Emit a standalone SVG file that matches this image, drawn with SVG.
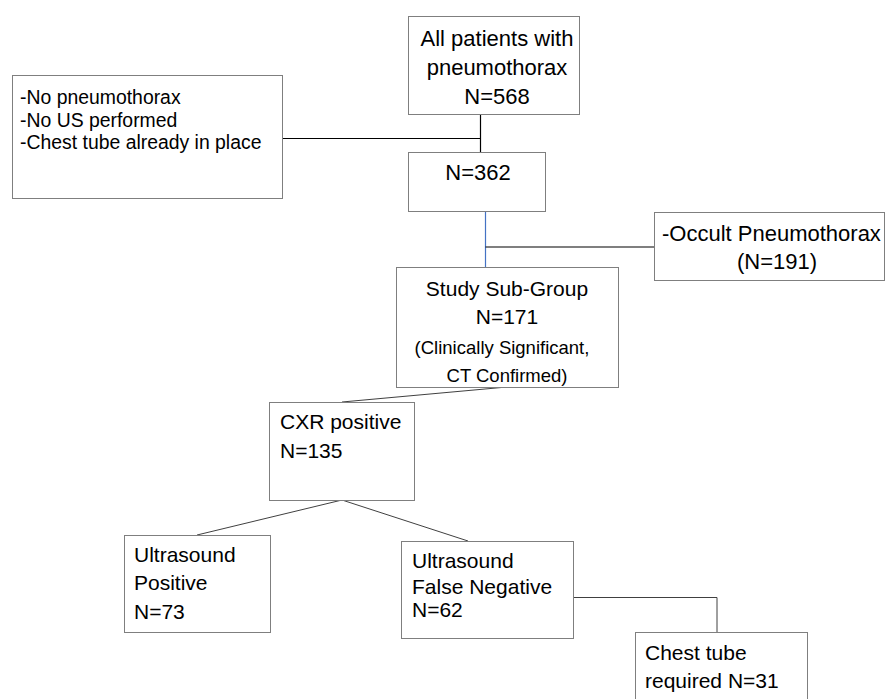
<svg xmlns="http://www.w3.org/2000/svg" width="885" height="699" viewBox="0 0 885 699">
<style>
.box{fill:#fff;stroke:#7f7f7f;stroke-width:1}
text{font-family:"Liberation Sans",Arial,sans-serif;font-size:21px;fill:#000}
.c{text-anchor:middle}
.t22{font-size:22px}
.t19{font-size:19.4px}
.sm{font-size:18.5px}
.k{stroke:#000;stroke-width:1.2;fill:none}
.g{stroke:#404040;stroke-width:1;fill:none}
</style>
<rect width="885" height="699" fill="#fff"/>
<g id="connectors">
<line class="k" x1="480.5" y1="114" x2="480.5" y2="152"/>
<line class="k" x1="282" y1="138.5" x2="480.5" y2="138.5"/>
<line x1="485.5" y1="211" x2="485.5" y2="267" stroke="#4472c4" stroke-width="1.2"/>
<line class="k" x1="485.5" y1="247" x2="654" y2="247"/>
<line class="g" x1="507" y1="387" x2="342" y2="402"/>
<line class="g" x1="342" y1="500" x2="197" y2="535"/>
<line class="g" x1="342" y1="500" x2="468" y2="541"/>
<polyline class="g" points="573,597.5 717,597.5 717,632" stroke="#555"/>
</g>
<g id="n_all">
<rect class="box" x="408.5" y="16.5" width="171" height="98"/>
<text class="c t22" x="497" y="46">All patients with</text>
<text class="c t22" x="497" y="75">pneumothorax</text>
<text class="c t22" x="497" y="104">N=568</text>
</g>
<g id="n_excl">
<rect class="box" x="12.5" y="75.5" width="270" height="123"/>
<text class="t19" x="20" y="104">-No pneumothorax</text>
<text class="t19" x="20" y="126.5">-No US performed</text>
<text class="t19" x="20" y="149">-Chest tube already in place</text>
</g>
<g id="n_362">
<rect class="box" x="408.5" y="152.5" width="137" height="59"/>
<text class="c t22" x="478" y="180">N=362</text>
</g>
<g id="n_occult">
<rect class="box" x="654.5" y="212.5" width="230" height="68"/>
<text class="t22" x="662" y="241">-Occult Pneumothorax</text>
<text class="c t22" x="777" y="269">(N=191)</text>
</g>
<g id="n_study">
<rect class="box" x="396.5" y="267.5" width="222" height="120"/>
<text class="c" x="507" y="296">Study Sub-Group</text>
<text class="c" x="507" y="324">N=171</text>
<text class="c sm" x="502" y="354">(Clinically Significant,</text>
<text class="c sm" x="507" y="382">CT Confirmed)</text>
</g>
<g id="n_cxr">
<rect class="box" x="269.5" y="402.5" width="145" height="98"/>
<text x="280" y="429">CXR positive</text>
<text x="280" y="458">N=135</text>
</g>
<g id="n_uspos">
<rect class="box" x="124.5" y="535.5" width="146" height="97"/>
<text x="134" y="562">Ultrasound</text>
<text x="134" y="590">Positive</text>
<text x="134" y="619">N=73</text>
</g>
<g id="n_usfn">
<rect class="box" x="401.5" y="541.5" width="172" height="97"/>
<text x="412" y="568">Ultrasound</text>
<text x="412" y="594">False Negative</text>
<text x="412" y="617">N=62</text>
</g>
<g id="n_chest">
<rect class="box" x="635.5" y="632.5" width="172" height="80"/>
<text x="645" y="660">Chest tube</text>
<text x="645" y="688">required N=31</text>
</g>
</svg>
